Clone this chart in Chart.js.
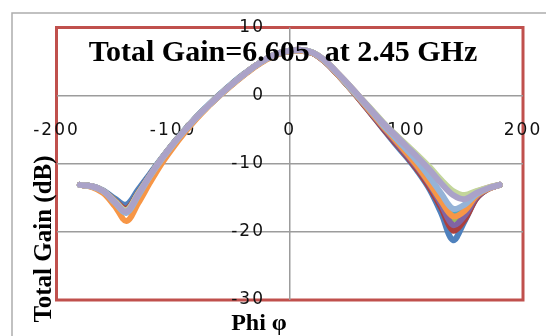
<!DOCTYPE html>
<html><head><meta charset="utf-8">
<script src="https://cdn.jsdelivr.net/npm/chart.js@4.4.1/dist/chart.umd.min.js"></script>
<style>html,body{margin:0;padding:0;background:#fff;overflow:hidden}canvas{display:block}</style>
</head><body>
<canvas id="c" width="546" height="336"></canvas>
<script>
const phi = [-180,-170,-160,-150,-140,-130,-120,-110,-100,-90,-80,-70,-60,-50,-40,-30,-20,-10,0,10,20,30,40,50,60,70,80,90,100,110,120,130,140,150,160,170,180];
const xTicks = [-200,-100,0,100,200];
const yTicks = [-30,-20,-10,0,10];
const titleText = 'Total Gain=6.605  at 2.45 GHz';
const xTitle = 'Phi \u03c6';
const yTitle = 'Total Gain (dB)';

const gainBlue   = [-13.1,-13.3,-13.9,-15.1,-16.0,-13.8,-11.5,-9.2,-7.0,-5.0,-3.1,-1.4,0.2,1.7,3.1,4.3,5.4,6.1,6.5,6.6,6.2,5.0,3.3,1.4,-0.6,-2.7,-4.9,-7.0,-9.0,-11.2,-13.8,-17.3,-21.2,-18.4,-15.1,-13.7,-13.1];
const gainRed    = [-13.1,-13.3,-14.0,-15.4,-16.6,-14.3,-11.7,-9.3,-7.1,-5.1,-3.2,-1.5,0.1,1.6,3.0,4.3,5.4,6.2,6.6,6.7,6.2,5.0,3.3,1.4,-0.6,-2.7,-4.8,-6.8,-8.8,-11.0,-13.5,-16.5,-19.8,-18.2,-15.1,-13.7,-13.1];
const gainGreen  = [-13.1,-13.3,-14.0,-15.5,-16.9,-14.4,-11.8,-9.3,-7.1,-5.1,-3.2,-1.5,0.1,1.6,3.0,4.3,5.4,6.2,6.6,6.7,6.3,5.1,3.4,1.5,-0.4,-2.4,-4.4,-6.3,-8.3,-10.4,-12.7,-15.4,-18.1,-16.9,-14.7,-13.6,-13.1];
const gainPurple = [-13.1,-13.3,-14.0,-15.6,-17.1,-14.5,-11.8,-9.3,-7.1,-5.1,-3.2,-1.5,0.1,1.6,3.0,4.3,5.4,6.2,6.6,6.7,6.2,5.0,3.3,1.5,-0.5,-2.6,-4.6,-6.6,-8.6,-10.7,-13.1,-16.0,-19.0,-17.6,-14.9,-13.7,-13.1];
const gainCyan   = [-13.1,-13.3,-14.0,-15.6,-17.0,-14.5,-11.8,-9.3,-7.1,-5.1,-3.2,-1.5,0.1,1.6,3.0,4.3,5.4,6.2,6.6,6.7,6.3,5.1,3.4,1.5,-0.4,-2.4,-4.4,-6.2,-8.0,-10.0,-12.2,-14.8,-17.2,-16.4,-14.6,-13.6,-13.1];
const gainOrange = [-13.1,-13.4,-14.3,-16.2,-18.4,-15.8,-12.8,-10.0,-7.6,-5.4,-3.4,-1.6,0.0,1.5,2.9,4.2,5.3,6.1,6.5,6.6,6.2,5.0,3.3,1.4,-0.5,-2.5,-4.5,-6.4,-8.4,-10.5,-12.9,-15.5,-17.7,-16.9,-14.7,-13.7,-13.1];
const gainLtBlue = [-13.1,-13.3,-14.0,-15.7,-17.2,-14.7,-11.9,-9.4,-7.2,-5.1,-3.2,-1.5,0.1,1.6,3.0,4.3,5.4,6.2,6.6,6.7,6.3,5.1,3.4,1.5,-0.4,-2.3,-4.3,-6.1,-7.9,-9.8,-12.0,-14.4,-16.6,-16.0,-14.5,-13.6,-13.1];
const gainPink   = [-13.1,-13.3,-14.0,-15.5,-16.9,-14.4,-11.8,-9.3,-7.1,-5.1,-3.2,-1.5,0.1,1.6,3.0,4.3,5.4,6.2,6.6,6.7,6.3,5.2,3.5,1.7,-0.2,-2.1,-4.0,-5.7,-7.3,-9.0,-10.7,-12.6,-14.2,-14.8,-14.1,-13.5,-13.1];
const gainLtGreen= [-13.1,-13.3,-14.0,-15.5,-16.8,-14.4,-11.8,-9.3,-7.1,-5.1,-3.2,-1.5,0.1,1.6,3.0,4.3,5.4,6.2,6.6,6.7,6.3,5.2,3.5,1.7,-0.2,-2.0,-3.9,-5.6,-7.2,-8.8,-10.5,-12.4,-14.0,-14.6,-14.0,-13.5,-13.1];
const gainLavender=[-13.1,-13.3,-14.0,-15.6,-17.0,-14.5,-11.8,-9.3,-7.1,-5.1,-3.2,-1.5,0.1,1.6,3.0,4.3,5.4,6.2,6.6,6.7,6.3,5.2,3.5,1.7,-0.2,-2.1,-4.0,-5.7,-7.4,-9.1,-10.9,-12.9,-14.6,-15.2,-14.3,-13.6,-13.1];

// drawn bottom -> top
const series = [
  {name:'s1', vals:gainBlue, color:'#4F81BD'},
  {name:'s2', vals:gainRed, color:'#AC3F3C'},
  {name:'s3', vals:gainGreen, color:'#9BBB59'},
  {name:'s4', vals:gainPurple, color:'#8064A2'},
  {name:'s5', vals:gainCyan, color:'#4BACC6'},
  {name:'s6', vals:gainOrange, color:'#F79646'},
  {name:'s7', vals:gainLtBlue, color:'#95B3D7'},
  {name:'s8', vals:gainPink, color:'#D99694'},
  {name:'s9', vals:gainLtGreen, color:'#C3D69B'},
  {name:'s10', vals:gainLavender, color:'#AAA2C8'}
];

const datasets = series.slice().reverse().map(s => ({
  label: s.name,
  data: phi.map((x,i) => ({x: x, y: s.vals[i]})),
  borderColor: s.color,
  backgroundColor: s.color,
  borderWidth: 6,
  pointRadius: 0,
  showLine: true,
  fill: false,
  tension: 0.35,
  borderCapStyle: 'round',
  borderJoinStyle: 'round'
}));

const GRID = '#9c9c9c';
const CLEAR = 'rgba(0,0,0,0)';
const tickFont = {family: '"DejaVu Sans"', size: 17, lineHeight: 1.2};
const plotLeft = 56.5, plotBottom = 300, chartH = 336;
const yLabelRight = 265, xLabelMid = 131;

function zeroPad(s) { s.paddingLeft = 0; s.paddingRight = 0; s.paddingTop = 0; s.paddingBottom = 0; }

const deco = {
  id: 'deco',
  beforeDraw(chart) {
    const ctx = chart.ctx, a = chart.chartArea;
    ctx.save();
    ctx.strokeStyle = '#adadad';
    ctx.lineWidth = 1.5;
    ctx.strokeRect(12, 13, 700, 500);
    ctx.strokeStyle = '#C0504D';
    ctx.lineWidth = 3;
    ctx.strokeRect(a.left, a.top, a.right - a.left, a.bottom - a.top);
    ctx.restore();
    ctx.letterSpacing = '2px';
  },
  afterDraw(chart) {
    const ctx = chart.ctx;
    ctx.letterSpacing = '0px';
    ctx.save();
    ctx.fillStyle = '#000';
    ctx.textAlign = 'center';
    ctx.textBaseline = 'alphabetic';
    ctx.font = 'bold 30px "Liberation Serif"';
    ctx.fillText(titleText, 283, 61);
    ctx.font = 'bold 24px "Liberation Serif"';
    ctx.fillText(xTitle, 259, 330);
    ctx.translate(45, 239);
    ctx.rotate(-Math.PI / 2);
    ctx.textBaseline = 'middle';
    ctx.font = 'bold 25px "Liberation Serif"';
    ctx.fillText(yTitle, 0, 0);
    ctx.restore();
  }
};

const chart = new Chart(document.getElementById('c'), {
  type: 'scatter',
  data: {datasets},
  options: {
    responsive: false,
    animation: false,
    events: [],
    layout: {padding: {left: 0, right: 23, top: 27.5, bottom: 0}},
    plugins: {legend: {display: false}, tooltip: {enabled: false}, title: {display: false}},
    scales: {
      x: {
        type: 'linear', min: -200, max: 200,
        position: 'bottom',
        afterBuildTicks: s => { s.ticks = xTicks.map(v => ({value: v})); },
        afterFit: s => { s.height = chartH - plotBottom; zeroPad(s); },
        ticks: {font: tickFont, color: '#111', mirror: true, padding: plotBottom - xLabelMid - 17 * 1.2 / 2, maxRotation: 0, autoSkip: false},
        grid: {
          display: true, drawTicks: false, lineWidth: 1.5,
          color: c => (c.tick && c.tick.value === 0) ? GRID : CLEAR
        },
        border: {display: false}
      },
      y: {
        type: 'linear', min: -30, max: 10,
        position: 'left',
        afterBuildTicks: s => { s.ticks = yTicks.map(v => ({value: v})); },
        afterFit: s => {
          s.width = plotLeft; zeroPad(s);
          s._computeLabelArea = () => undefined; // labels sit inside the plot, next to the x=0 axis
        },
        ticks: {font: tickFont, color: '#111', padding: plotLeft - yLabelRight, autoSkip: false},
        grid: {
          drawTicks: false,
          lineWidth: 1.5,
          color: c => (c.tick && (c.tick.value === 10 || c.tick.value === -30)) ? CLEAR : GRID
        },
        border: {display: false}
      }
    }
  },
  plugins: [deco]
});
</script>
</body></html>
